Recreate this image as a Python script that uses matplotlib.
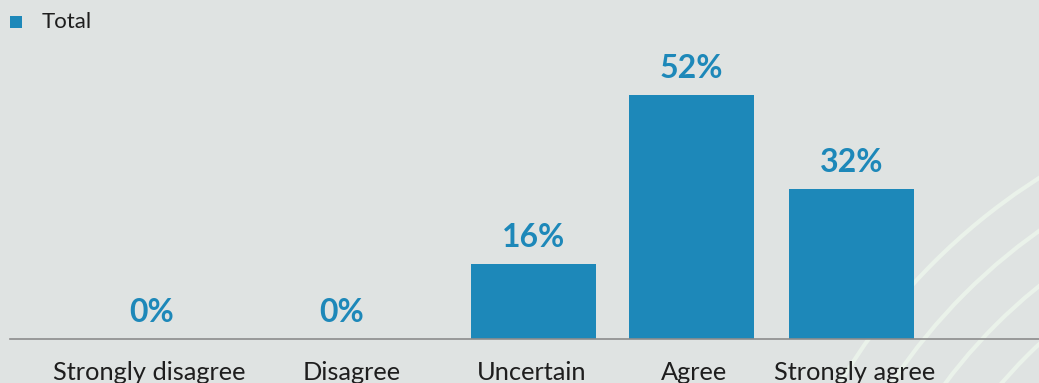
import matplotlib
matplotlib.use('Agg')
import matplotlib.pyplot as plt
from matplotlib.patches import Circle, Rectangle

plt.rcParams['font.family'] = ['Lato', 'DejaVu Sans']

## Survey results ##
categories = ['Strongly disagree', 'Disagree', 'Uncertain', 'Agree', 'Strongly agree']
values = [0, 0, 16, 52, 32]
series_name = 'Total'

# horizontal layout (figure pixels) for bars and their category labels
bar_x = [152, 341.5, 533.5, 691.5, 851.5]
label_x = [149, 352, 532, 694, 855]

bg_color = '#dfe3e2'
bar_color = '#1d88b9'
text_color = '#1e1e1e'
W, H = 1039, 383

fig = plt.figure(figsize=[W / 100, H / 100], dpi=100, facecolor=bg_color)

## Decorative rings in the background ##
deco = fig.add_axes([0, 0, 1, 1], zorder=0)
deco.set_xlim(0, W)
deco.set_ylim(H, 0)
deco.axis('off')
for r in [620, 576, 532, 488]:
    deco.add_patch(Circle((1372, 701), r, fill=False,
                          edgecolor='#eaf2ea', lw=3))

## Legend ##
deco.add_patch(Rectangle((10, 16), 12, 12, facecolor=bar_color,
                         edgecolor='none'))
deco.text(42, 22, series_name, fontsize=16, color=text_color,
          ha='left', va='center')

## Bar chart ##
base_px = 339
px_per_pct = 4.692
ymax = 60
ax = fig.add_axes([10 / W, (H - base_px) / H, (W - 10) / W,
                   ymax * px_per_pct / H], zorder=1)
ax.patch.set_alpha(0)
ax.set_xlim(10, W)
ax.set_ylim(0, ymax)

ax.bar(bar_x, values, width=125, color=bar_color, zorder=2)

for x, v in zip(bar_x, values):
    ax.annotate(f'{v}%', xy=(x, v), xytext=(0, 12.3),
                textcoords='offset points', ha='center', va='baseline',
                fontsize=23, fontweight='bold', color=bar_color)

for x, name in zip(label_x, categories):
    ax.annotate(name, xy=(x, 0), xytext=(0, -29.5),
                textcoords='offset points', ha='center', va='baseline',
                fontsize=18.3, color=text_color, annotation_clip=False)

for side in ['top', 'left', 'right']:
    ax.spines[side].set_visible(False)
ax.spines['bottom'].set_color('#8c8c8c')
ax.spines['bottom'].set_linewidth(1.2)
ax.spines['bottom'].set_zorder(3)
ax.set_xticks([])
ax.set_yticks([])

plt.savefig('out.png', dpi=100, facecolor=bg_color)
plt.close(fig)
